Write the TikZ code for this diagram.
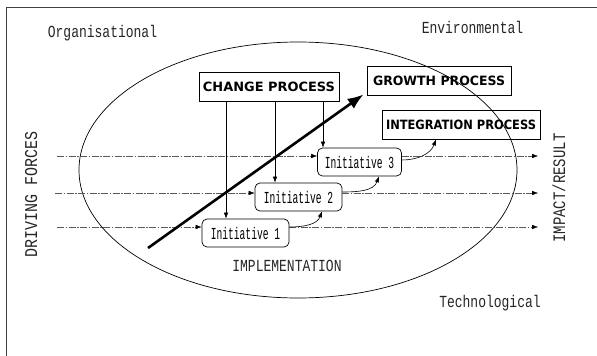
\documentclass[tikz,border=0pt]{standalone}
\usepackage{fontspec}
\usepackage{graphicx}
\usetikzlibrary{arrows.meta,calc}
\newfontfamily\monof{Liberation Mono}
\newfontfamily\boxfont{DejaVu Sans}
\newcommand{\bxt}[2]{\resizebox{#1}{9.5pt}{\boxfont\bfseries #2}}
\newcommand{\mtx}[4]{\scalebox{#1}[#2]{\monof\fontsize{#3}{#3}\selectfont #4}}
\begin{document}
\begin{tikzpicture}[x=1pt,y=-1pt,
  procbox/.style={draw=black,line width=0.8pt,minimum height=29pt,inner sep=0pt},
  initbox/.style={draw=black,line width=0.7pt,rounded corners=5pt,minimum height=28pt,inner sep=0pt},
  tip/.style={-{Latex[length=6pt,width=4.5pt]}},
  dd/.style={draw=black!65,line width=0.7pt,dash pattern=on 7pt off 1.5pt on 1.5pt off 1.5pt},
  lbl/.style={inner sep=0pt,anchor=base,text=black!85}]
\useasboundingbox (0,0) rectangle (597,356);
\fill[white] (0,0) rectangle (597,356);
% frame
\draw[black!75,line width=0.8pt] (6,360) -- (6,7) -- (600,7);
% ellipse
\draw[line width=0.7pt] (298,170) ellipse [x radius=219, y radius=128];
% labels
\node[lbl] (org) at (102.5,37) {\mtx{1}{1.3}{13}{Organisational}};
\node[lbl] (env) at (472.5,33) {\mtx{1}{1.3}{13}{Environmental}};
\node[lbl] (tech) at (490,307) {\mtx{1}{1.3}{13}{Technological}};
\node[lbl] (impl) at (287,271) {\mtx{1}{1.3}{13}{IMPLEMENTATION}};
\node[lbl,rotate=90] (drv) at (37,194) {\mtx{1}{1.2}{15}{DRIVING FORCES}};
\node[lbl,rotate=90] (imp) at (565,188) {\mtx{1}{1.25}{14}{IMPACT/RESULT}};
% process boxes
\node[procbox,minimum width=140pt] (change) at (269,86.5) {\bxt{132pt}{CHANGE PROCESS}};
\node[procbox,minimum width=144pt] (growth) at (439,80.5) {\bxt{132pt}{GROWTH PROCESS}};
\node[procbox,minimum width=158pt] (integ) at (461,124.5) {\bxt{150pt}{INTEGRATION PROCESS}};
% initiatives
\node[initbox,minimum width=84pt] (init3) at (359.5,162) {\mtx{0.8}{1.4}{12}{Initiative 3}};
\node[initbox,minimum width=87pt] (init2) at (298.5,197) {\mtx{0.8}{1.4}{12}{Initiative 2}};
\node[initbox,minimum width=87pt] (init1) at (245.5,233) {\mtx{0.8}{1.4}{12}{Initiative 1}};
% dashed driving lines
\coordinate (L1) at (57,156);
\coordinate (L2) at (55,193);
\coordinate (L3) at (57,227);
\coordinate (R1) at (538,156);
\coordinate (R2) at (538,193);
\coordinate (R3) at (538,227);
\draw[dd] (L1) -- ([xshift=-5pt]init3.west |- L1);
\draw[dd] (L2) -- ([xshift=-5pt]init2.west |- L2);
\draw[dd] (L3) -- ([xshift=-5pt]init1.west |- L3);
\draw[tip] ([xshift=-6pt]init3.west |- L1) -- (init3.west |- L1);
\draw[tip] ([xshift=-6pt]init2.west |- L2) -- (init2.west |- L2);
\draw[tip] ([xshift=-6pt]init1.west |- L3) -- (init1.west |- L3);
\draw[dd] (init3.east |- R1) -- ([xshift=-5pt]R1);
\draw[dd] (init2.east |- R2) -- ([xshift=-5pt]R2);
\draw[dd] (init1.east |- R3) -- ([xshift=-5pt]R3);
\draw[tip] ([xshift=-6pt]R1) -- (R1);
\draw[tip] ([xshift=-6pt]R2) -- (R2);
\draw[tip] ([xshift=-6pt]R3) -- (R3);
% vertical arrows from change process
\coordinate (v1) at (226,0);
\coordinate (v2) at (275,0);
\coordinate (v3) at (323,0);
\draw[tip,line width=0.6pt] (change.south -| v1) -- (init1.north -| v1);
\draw[tip,line width=0.6pt] (change.south -| v2) -- (init2.north -| v2);
\draw[tip,line width=0.6pt] (change.south -| v3) -- (init3.north -| v3);
% curved arrows
\draw[tip,line width=0.6pt] ([yshift=6pt]init1.east) to[out=0,in=-110] ([xshift=23.5pt]init2.south);
\draw[tip,line width=0.6pt] ([yshift=5pt]init2.east) to[out=0,in=-110] ([xshift=19.5pt]init3.south);
\draw[tip,line width=0.6pt] ([yshift=2pt]init3.east) to[out=0,in=-110] ([xshift=-25pt]integ.south);
% thick arrow
\coordinate (ts) at (148,248);
\draw[line width=2.6pt,-{Latex[length=16pt,width=12pt]}] (ts) -- ([xshift=-3pt,yshift=1pt]growth.south west);
\end{tikzpicture}
\end{document}
